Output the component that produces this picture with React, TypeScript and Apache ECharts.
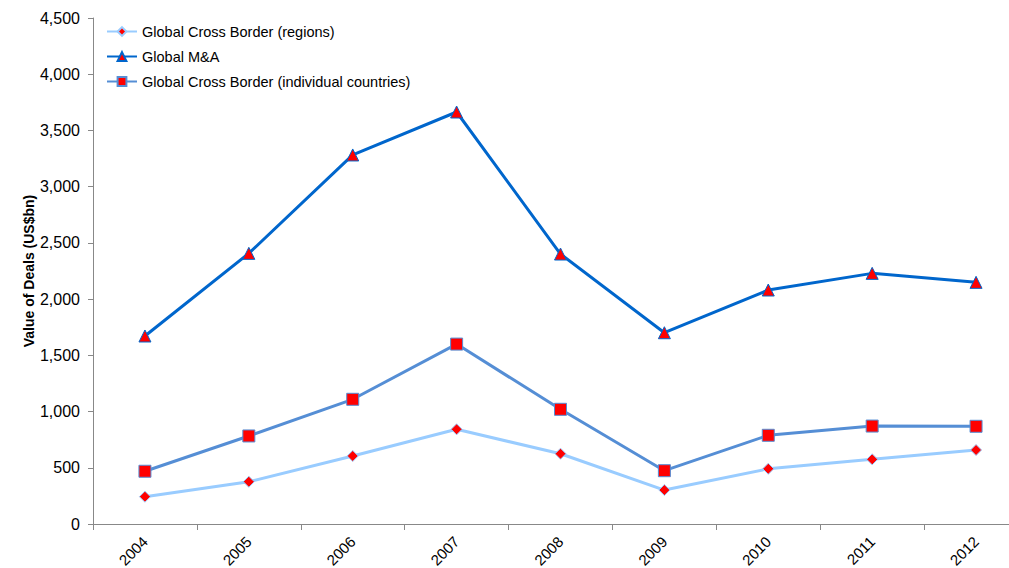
import React, { useEffect, useRef } from "react";
import * as echarts from "echarts";

const years = ["2004", "2005", "2006", "2007", "2008", "2009", "2010", "2011", "2012"];
const crossBorderRegions = [243, 376, 605, 842, 625, 302, 491, 575, 658];
const globalMA = [1672, 2407, 3282, 3664, 2401, 1701, 2081, 2229, 2149];
const crossBorderCountries = [469, 783, 1109, 1600, 1020, 474, 789, 871, 869];
const legendNames = ["Global Cross Border (regions)", "Global M&A", "Global Cross Border (individual countries)"];

const FONT = "'Liberation Sans', Arial, sans-serif";

export default function App() {
  const ref = useRef<HTMLDivElement>(null);
  useEffect(() => {
    if (!ref.current) return;
    const chart = echarts.init(ref.current, undefined, { renderer: "svg" });
    const mk = (name: string, data: number[], color: string, symbol: string, size: number, z: number) => ({
      name,
      type: "line",
      data,
      symbol,
      symbolSize: size,
      z,
      lineStyle: { color, width: 3 },
      itemStyle: { color: "#FF0000", borderColor: color, borderWidth: 1 },
    });
    chart.setOption({
      animation: false,
      textStyle: { fontFamily: FONT },
      grid: { left: 93, right: 12, top: 18, bottom: 44, containLabel: false, outerBoundsMode: "none" },
      legend: {
        orient: "vertical",
        left: 106,
        top: 24,
        padding: 0,
        itemWidth: 30,
        itemHeight: 11,
        itemGap: 10,
        textStyle: { fontFamily: FONT, fontSize: 14.5, color: "#000" },
        data: legendNames,
      },
      xAxis: {
        type: "category",
        data: years,
        boundaryGap: true,
        axisLine: { lineStyle: { color: "#888", width: 1 } },
        axisTick: { show: true, length: 6, inside: false, lineStyle: { color: "#888" } },
        axisLabel: { rotate: 45, color: "#000", fontSize: 15, fontFamily: FONT, margin: 15 },
        splitLine: { show: false },
      },
      yAxis: {
        type: "value",
        min: 0,
        max: 4500,
        interval: 500,
        name: "Value of Deals (US$bn)",
        nameLocation: "middle",
        nameGap: 57,
        nameRotate: 90,
        nameMoveOverlap: false,
        nameTextStyle: { fontFamily: FONT, fontSize: 14, fontWeight: "bold", color: "#000" },
        axisLine: { show: true, lineStyle: { color: "#888", width: 1 } },
        axisTick: { show: true, length: 5, inside: false, lineStyle: { color: "#888" } },
        axisLabel: {
          color: "#000",
          fontSize: 16,
          fontFamily: FONT,
          margin: 13,
          formatter: (v: number) => v.toLocaleString("en-US"),
        },
        splitLine: { show: false },
      },
      series: [
        mk(legendNames[0], crossBorderRegions, "#99CCFF", "diamond", 11, 3),
        mk(legendNames[1], globalMA, "#0066CC", "triangle", 12, 2),
        mk(legendNames[2], crossBorderCountries, "#558ED5", "rect", 12, 4),
      ],
    });
    return () => chart.dispose();
  }, []);
  return (
    <div style={{ position: "fixed", left: 0, top: 0, width: 1009, height: 568, overflow: "hidden", background: "#fff" }}>
      <div ref={ref} style={{ width: 1040, height: 568 }} />
    </div>
  );
}
